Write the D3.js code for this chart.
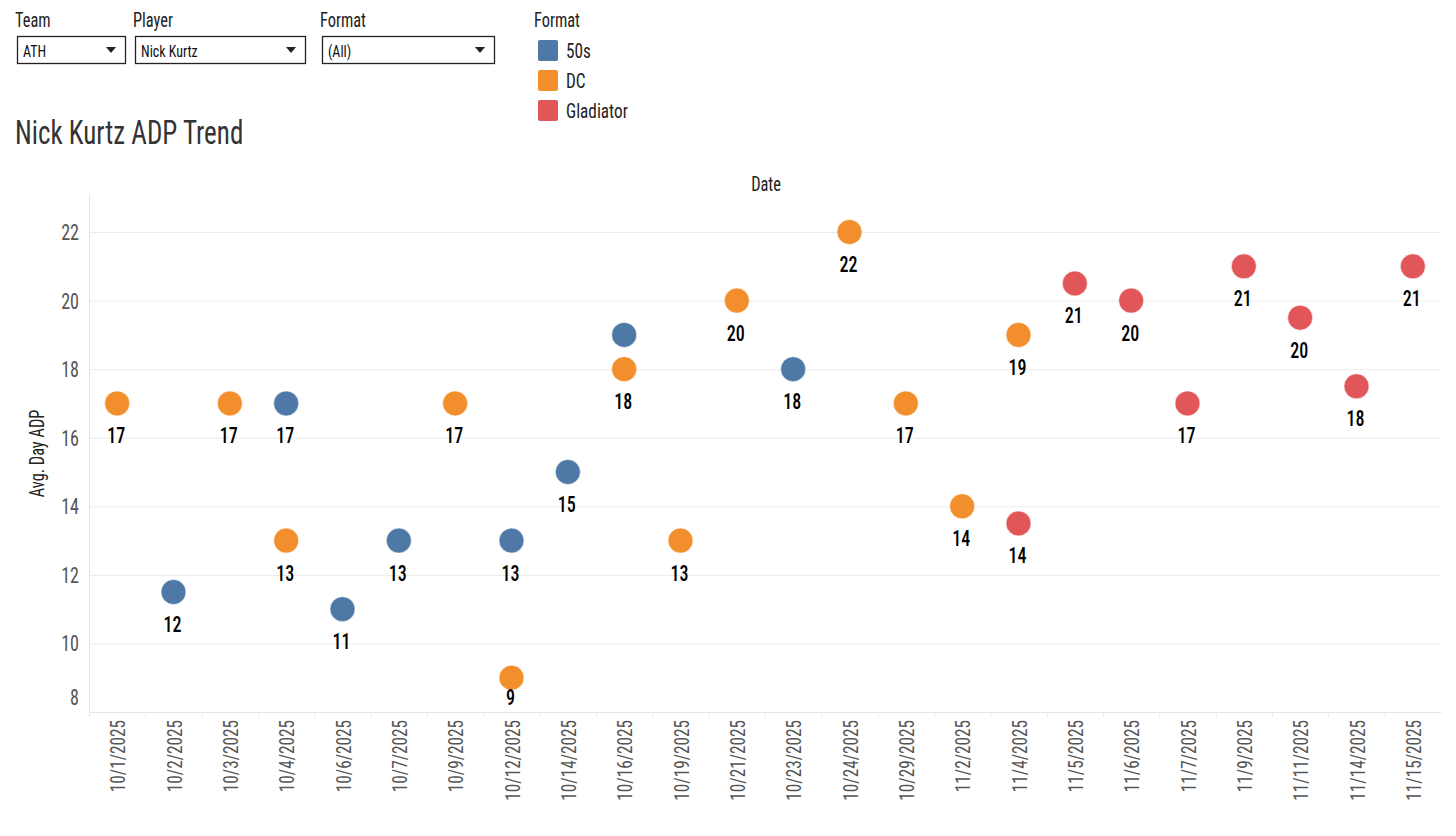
<!DOCTYPE html>
<html>
<head>
<meta charset="utf-8">
<script src="https://cdn.jsdelivr.net/npm/d3@7"></script>
<style>
  body { margin: 0; background: #fff; }
  text { font-family: 'Roboto Condensed', Roboto, 'DejaVu Sans Condensed', sans-serif; }
</style>
</head>
<body>
<div id="chart"></div>
<script>
// dates on the x axis
var dates = ["10/1/2025", "10/2/2025", "10/3/2025", "10/4/2025", "10/6/2025", "10/7/2025",
  "10/9/2025", "10/12/2025", "10/14/2025", "10/16/2025", "10/19/2025", "10/21/2025",
  "10/23/2025", "10/24/2025", "10/29/2025", "11/2/2025", "11/4/2025", "11/5/2025",
  "11/6/2025", "11/7/2025", "11/9/2025", "11/11/2025", "11/14/2025", "11/15/2025"];

var formats = ["50s", "DC", "Gladiator"];
var formatColors = ["#4e79a7", "#f28e2b", "#e15759"];

// 50s drafts
var fiftiesDates = ["10/2/2025", "10/4/2025", "10/6/2025", "10/7/2025", "10/12/2025", "10/14/2025", "10/16/2025", "10/23/2025"];
var fiftiesAdp = [11.5, 17, 11, 13, 13, 15, 19, 18];

// DC drafts
var dcDates = ["10/1/2025", "10/3/2025", "10/4/2025", "10/9/2025", "10/12/2025", "10/16/2025", "10/19/2025",
  "10/21/2025", "10/24/2025", "10/29/2025", "11/2/2025", "11/4/2025"];
var dcAdp = [17, 17, 13, 17, 9, 18, 13, 20, 22, 17, 14, 19];

// Gladiator drafts
var gladDates = ["11/4/2025", "11/5/2025", "11/6/2025", "11/7/2025", "11/9/2025", "11/11/2025", "11/14/2025", "11/15/2025"];
var gladAdp = [13.5, 20.5, 20, 17, 21, 19.5, 17.5, 21];

var yTicks = [8, 10, 12, 14, 16, 18, 20, 22];

var points = [];
fiftiesDates.forEach(function(d, i) { points.push({ date: d, adp: fiftiesAdp[i], format: "50s" }); });
dcDates.forEach(function(d, i) { points.push({ date: d, adp: dcAdp[i], format: "DC" }); });
gladDates.forEach(function(d, i) { points.push({ date: d, adp: gladAdp[i], format: "Gladiator" }); });

var svgWidth = 1456;
var svgHeight = 836;

// the dashboard font is a narrow one, squeeze Roboto to get close
var squeeze = 0.82;
function place(x, y, rot) {
  return `translate(${x}, ${y})` + (rot ? ` rotate(${rot})` : "") + ` scale(${squeeze}, 1)`;
}

var svg = d3.select("#chart")
  .append("svg")
  .attr("width", svgWidth)
  .attr("height", svgHeight);

// filter controls
var filters = [
  { label: "Team", value: "ATH", x: 17, w: 108 },
  { label: "Player", value: "Nick Kurtz", x: 135, w: 170 },
  { label: "Format", value: "(All)", x: 322, w: 172 }
];

filters.forEach(function(f) {
  svg.append("text")
    .attr("transform", place(f.x - 2, 27))
    .attr("font-size", 20)
    .attr("fill", "#222")
    .text(f.label);
  svg.append("rect")
    .attr("x", f.x + 0.5)
    .attr("y", 36.5)
    .attr("width", f.w)
    .attr("height", 27)
    .attr("fill", "#fff")
    .attr("stroke", "#222")
    .attr("stroke-width", 1.3);
  svg.append("text")
    .attr("transform", place(f.x + 6, 57))
    .attr("font-size", 17)
    .attr("fill", "#111")
    .text(f.value);
  var ax = f.x + f.w - 14;
  svg.append("path")
    .attr("d", `M${ax - 5},47 L${ax + 5},47 L${ax},53 Z`)
    .attr("fill", "#222");
});

// legend
var colorScale = d3.scaleOrdinal().domain(formats).range(formatColors);

svg.append("text")
  .attr("transform", place(534, 27))
  .attr("font-size", 20)
  .attr("fill", "#222")
  .text("Format");

var legend = svg.append("g").attr("transform", "translate(538, 40)");
formats.forEach(function(f, i) {
  legend.append("rect")
    .attr("x", 0)
    .attr("y", i * 30)
    .attr("width", 20)
    .attr("height", 21)
    .attr("rx", 2)
    .attr("fill", colorScale(f));
  legend.append("text")
    .attr("transform", place(28, i * 30 + 18))
    .attr("font-size", 21)
    .attr("fill", "#222")
    .text(f);
});

// title
svg.append("text")
  .attr("transform", place(15, 144))
  .attr("font-size", 33)
  .attr("fill", "#333")
  .text("Nick Kurtz ADP Trend");

// plot area
var margin = { top: 195, left: 89, right: 15, bottom: 124 };
var width = svgWidth - margin.left - margin.right;
var height = svgHeight - margin.top - margin.bottom;

var chartGroup = svg.append("g")
  .attr("transform", `translate(${margin.left}, ${margin.top})`);

var xScale = d3.scaleBand()
  .domain(dates)
  .range([0, width]);

var yScale = d3.scaleLinear()
  .domain([8, 23.08])
  .range([height, 0]);

// header
svg.append("text")
  .attr("transform", place(margin.left + width / 2 + 1, 191))
  .attr("text-anchor", "middle")
  .attr("font-size", 20)
  .attr("fill", "#222")
  .text("Date");

// gridlines
chartGroup.append("g")
  .selectAll("line")
  .data(yTicks.filter(d => d > 8))
  .enter()
  .append("line")
  .attr("x1", 0)
  .attr("x2", width)
  .attr("y1", d => yScale(d) + 0.5)
  .attr("y2", d => yScale(d) + 0.5)
  .attr("stroke", "#ececec")
  .attr("stroke-width", 1);

// y axis line
chartGroup.append("line")
  .attr("x1", 0.5).attr("x2", 0.5)
  .attr("y1", 0).attr("y2", height)
  .attr("stroke", "#e6e6e6");

// y tick labels
chartGroup.append("g")
  .selectAll("text")
  .data(yTicks)
  .enter()
  .append("text")
  .attr("transform", d => place(-10, Math.min(yScale(d) + 8, height - 7)))
  .attr("text-anchor", "end")
  .attr("font-size", 22)
  .attr("fill", "#555")
  .text(d => d);

// y axis title
svg.append("text")
  .attr("transform", place(44, margin.top + height / 2, -90))
  .attr("text-anchor", "middle")
  .attr("font-size", 20)
  .attr("fill", "#222")
  .text("Avg. Day ADP");

// bottom axis
var bottomAxis = d3.axisBottom(xScale).tickSize(0).tickFormat("");
chartGroup.append("g")
  .attr("transform", `translate(0, ${height})`)
  .call(bottomAxis)
  .call(g => g.select(".domain").attr("stroke", "#e6e6e6"));

// band boundary ticks
chartGroup.append("g")
  .selectAll("line")
  .data(dates)
  .enter()
  .append("line")
  .attr("x1", d => xScale(d) + 0.5)
  .attr("x2", d => xScale(d) + 0.5)
  .attr("y1", height)
  .attr("y2", height + 5)
  .attr("stroke", "#e6e6e6");

// x tick labels
chartGroup.append("g")
  .selectAll("text")
  .data(dates)
  .enter()
  .append("text")
  .attr("transform", d => place(xScale(d) + xScale.bandwidth() / 2 + 8, height + 8, -90))
  .attr("text-anchor", "end")
  .attr("font-size", 21)
  .attr("fill", "#555")
  .text(d => d);

// circles
var r = 12.5;
var cx = d => xScale(d.date) + xScale.bandwidth() / 2;
var cy = d => yScale(d.adp);

chartGroup.selectAll("circle")
  .data(points)
  .enter()
  .append("circle")
  .attr("cx", cx)
  .attr("cy", cy)
  .attr("r", r)
  .attr("fill", d => colorScale(d.format))
  .attr("stroke", "#fff")
  .attr("stroke-width", 0.6);

// labels under points, hidden when they would sit on another mark
var shown = points.filter(function(p) {
  var ly = cy(p) + 33;
  return !points.some(function(q) {
    return q !== p && q.date === p.date && Math.abs(cy(q) - ly) < r + 8;
  });
});

chartGroup.append("g")
  .selectAll("text")
  .data(shown)
  .enter()
  .append("text")
  .attr("transform", d => place(cx(d) - 1, Math.min(cy(d) + 40, height - 7)))
  .attr("text-anchor", "middle")
  .attr("font-size", 22)
  .attr("font-weight", 500)
  .attr("fill", "#000")
  .text(d => Math.round(d.adp));
</script>
</body>
</html>
